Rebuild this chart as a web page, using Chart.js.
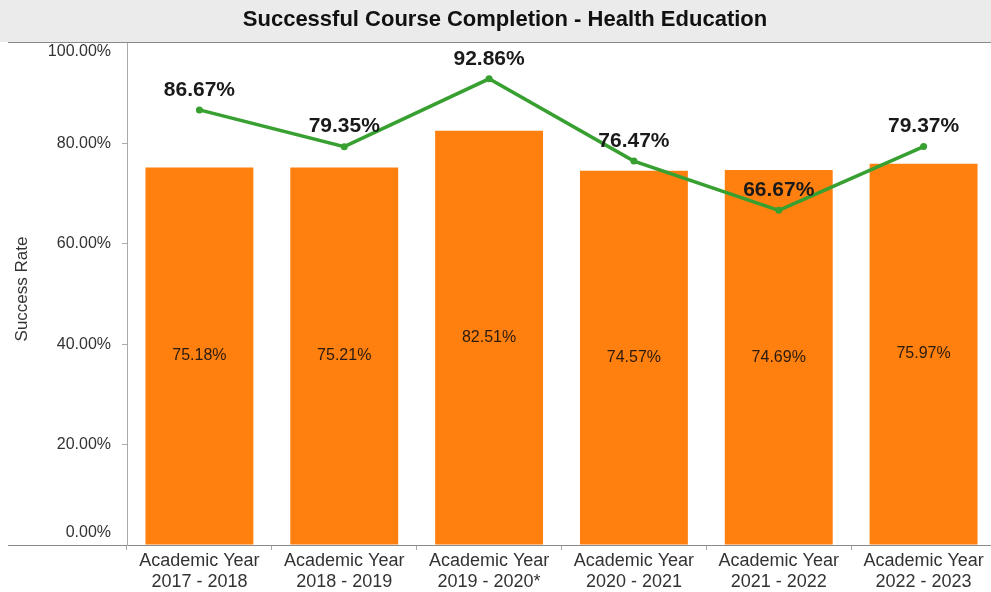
<!DOCTYPE html>
<html><head><meta charset="utf-8">
<script src="https://cdn.jsdelivr.net/npm/chart.js@4.4.0/dist/chart.umd.min.js"></script>
<style>html,body{margin:0;padding:0;overflow:hidden;background:#fff;width:991px;height:592px}</style>
</head><body>
<canvas id="c" width="1000" height="592" style="display:block;width:1000px;height:592px"></canvas>
<script>
const categories = [
  ["Academic Year","2017 - 2018"],
  ["Academic Year","2018 - 2019"],
  ["Academic Year","2019 - 2020*"],
  ["Academic Year","2020 - 2021"],
  ["Academic Year","2021 - 2022"],
  ["Academic Year","2022 - 2023"]
];
const collegeSuccess = [75.18, 75.21, 82.51, 74.57, 74.69, 75.97];
const healthEdSuccess = [86.67, 79.35, 92.86, 76.47, 66.67, 79.37];
const yTicks = [0, 20, 40, 60, 80, 100];
const yTickLabels = ["0.00%", "20.00%", "40.00%", "60.00%", "80.00%", "100.00%"];
const chartTitle = "Successful Course Completion - Health Education";
const yAxisTitle = "Success Rate";

const FONT = "'Liberation Sans', Arial, sans-serif";

const decor = {
  id: 'decor',
  beforeDraw(chart) {
    const ctx = chart.ctx;
    ctx.save();
    ctx.fillStyle = '#ffffff';
    ctx.fillRect(0, 0, chart.width, chart.height);
    ctx.fillStyle = '#ebebeb';
    ctx.fillRect(0, 0, chart.width, 42);
    ctx.fillStyle = '#111';
    ctx.font = "bold 22px " + FONT;
    ctx.textAlign = 'center';
    ctx.textBaseline = 'middle';
    ctx.fillText(chartTitle, 505, 20);
    ctx.restore();
  },
  afterDraw(chart) {
    const ctx = chart.ctx;
    const ca = chart.chartArea;
    const y = chart.scales.y;
    ctx.save();
    ctx.strokeStyle = '#8a8a8a';
    ctx.lineWidth = 1;
    ctx.beginPath();
    ctx.moveTo(8, ca.top - 0.5); ctx.lineTo(chart.width, ca.top - 0.5);
    ctx.moveTo(8, ca.bottom + 0.5); ctx.lineTo(ca.left, ca.bottom + 0.5);
    ctx.stroke();
    ctx.fillStyle = '#333';
    ctx.font = "16px " + FONT;
    ctx.textAlign = 'right';
    ctx.textBaseline = 'middle';
    yTicks.forEach((v, i) => {
      let py = y.getPixelForValue(v);
      if (v === 100) py += 9;
      if (v === 0) py -= 12;
      ctx.fillText(yTickLabels[i], 111, py);
    });
    ctx.save();
    ctx.translate(22, 289);
    ctx.rotate(-Math.PI / 2);
    ctx.textAlign = 'center';
    ctx.font = "17px " + FONT;
    ctx.fillText(yAxisTitle, 0, 0);
    ctx.restore();
    const barMeta = chart.getDatasetMeta(0);
    ctx.font = "16px " + FONT;
    ctx.fillStyle = '#2a1a10';
    ctx.textAlign = 'center';
    barMeta.data.forEach((bar, i) => {
      const mid = (bar.y + bar.base) / 2;
      ctx.fillText(collegeSuccess[i].toFixed(2) + '%', bar.x, mid);
    });
    const lineMeta = chart.getDatasetMeta(1);
    ctx.font = "bold 21px " + FONT;
    ctx.fillStyle = '#1a1a1a';
    lineMeta.data.forEach((pt, i) => {
      ctx.fillText(healthEdSuccess[i].toFixed(2) + '%', pt.x, pt.y - 20);
    });
    ctx.restore();
  }
};

new Chart(document.getElementById('c'), {
  data: {
    labels: categories,
    datasets: [
      {
        type: 'bar',
        data: collegeSuccess,
        backgroundColor: '#ff800f',
        barPercentage: 0.745,
        categoryPercentage: 1.0,
        order: 2
      },
      {
        type: 'line',
        data: healthEdSuccess,
        borderColor: '#38a030',
        backgroundColor: '#38a030',
        borderWidth: 3.5,
        pointRadius: 3.5,
        pointBackgroundColor: '#38a030',
        pointBorderWidth: 0,
        tension: 0,
        order: 1
      }
    ]
  },
  options: {
    responsive: false,
    animation: false,
    layout: { padding: { top: 43, right: 1, left: 0, bottom: 0 } },
    plugins: { legend: { display: false }, tooltip: { enabled: false }, title: { display: false } },
    scales: {
      x: {
        offset: true,
        grid: { display: true, drawOnChartArea: false, drawTicks: true, tickLength: 5, color: '#aaa', offset: true },
        border: { display: true, color: '#8a8a8a', width: 1 },
        ticks: { color: '#333', font: { family: FONT, size: 18 }, padding: 0, maxRotation: 0, autoSkip: false },
        afterFit(s) { s.height = 47; }
      },
      y: {
        min: 0, max: 100,
        ticks: { stepSize: 20, color: 'rgba(0,0,0,0)', font: { family: FONT, size: 16 } },
        grid: {
          drawOnChartArea: false, drawTicks: true, tickLength: 5,
          color: (c) => (c.tick && (c.tick.value === 0 || c.tick.value === 100)) ? 'rgba(0,0,0,0)' : '#aaa'
        },
        border: { display: true, color: '#aaa', width: 1 },
        afterFit(s) { s.width = 127; }
      }
    }
  },
  plugins: [decor]
});
</script>
</body></html>
